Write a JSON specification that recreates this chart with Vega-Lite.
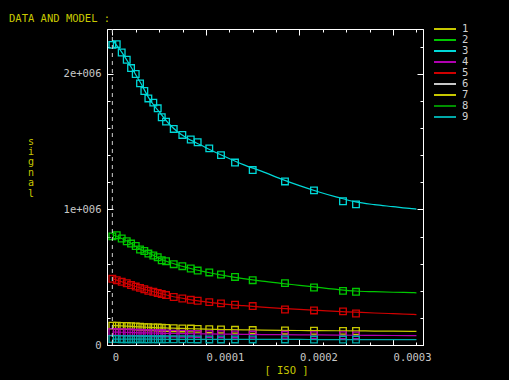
{
"$schema": "https://vega.github.io/schema/vega-lite/v6.json",
"width": 316, "height": 316,
"autosize": {"type": "none"},
"padding": {"left": 107, "top": 29, "right": 86, "bottom": 35},
"background": "#000000",
"title": {"text": "DATA AND MODEL :", "anchor": "start", "frame": "group", "dx": -98, "dy": 17, "offset": 9, "baseline": "alphabetic", "color": "#c8c800", "font": "DejaVu Sans Mono", "fontSize": 10.5, "fontWeight": "normal"},
"config": {
  "view": {"stroke": "#ffffff", "strokeWidth": 1},
  "axis": {"grid": false, "domainColor": "#ffffff", "tickColor": "#ffffff", "labelColor": "#c8c8c8", "labelFont": "DejaVu Sans Mono", "labelFontSize": 10.5, "titleFont": "DejaVu Sans Mono", "titleFontSize": 10.5, "titleFontWeight": "normal", "titleColor": "#c8c800", "labelOverlap": false, "labelFlush": false}
},
"datasets": {
"pts": [
{"s":"3","x":0,"y":2213000},{"s":"3","x":0.0000047,"y":2218000},{"s":"3","x":0.00001,"y":2157000},{"s":"3","x":0.0000154,"y":2103000},{"s":"3","x":0.00002,"y":2042000},{"s":"3","x":0.000025,"y":1998000},{"s":"3","x":0.0000296,"y":1929000},{"s":"3","x":0.0000342,"y":1873000},{"s":"3","x":0.0000385,"y":1818000},{"s":"3","x":0.0000438,"y":1787000},{"s":"3","x":0.0000485,"y":1745000},{"s":"3","x":0.0000528,"y":1679000},{"s":"3","x":0.0000574,"y":1647000},{"s":"3","x":0.0000656,"y":1593000},{"s":"3","x":0.0000748,"y":1549000},{"s":"3","x":0.0000838,"y":1515000},{"s":"3","x":0.0000912,"y":1495000},{"s":"3","x":0.0001036,"y":1450000},{"s":"3","x":0.0001161,"y":1400000},{"s":"3","x":0.0001311,"y":1345000},{"s":"3","x":0.00015,"y":1290000},{"s":"3","x":0.0001845,"y":1206000},{"s":"3","x":0.0002155,"y":1140000},{"s":"3","x":0.0002465,"y":1060000},{"s":"3","x":0.0002604,"y":1037000},
{"s":"2","x":0,"y":801000},{"s":"2","x":0.0000047,"y":809000},{"s":"2","x":0.00001,"y":785000},{"s":"2","x":0.0000154,"y":765000},{"s":"2","x":0.00002,"y":748000},{"s":"2","x":0.000025,"y":730000},{"s":"2","x":0.0000296,"y":704000},{"s":"2","x":0.0000342,"y":693000},{"s":"2","x":0.0000385,"y":674000},{"s":"2","x":0.0000438,"y":660000},{"s":"2","x":0.0000485,"y":647000},{"s":"2","x":0.0000528,"y":625000},{"s":"2","x":0.0000574,"y":618000},{"s":"2","x":0.0000656,"y":596000},{"s":"2","x":0.0000748,"y":581000},{"s":"2","x":0.0000838,"y":564000},{"s":"2","x":0.0000912,"y":549000},{"s":"2","x":0.0001036,"y":535000},{"s":"2","x":0.0001161,"y":520000},{"s":"2","x":0.0001311,"y":502000},{"s":"2","x":0.00015,"y":478000},{"s":"2","x":0.0001845,"y":456000},{"s":"2","x":0.0002155,"y":424000},{"s":"2","x":0.0002465,"y":399000},{"s":"2","x":0.0002604,"y":392000},
{"s":"5","x":0,"y":488000},{"s":"5","x":0.0000047,"y":478000},{"s":"5","x":0.00001,"y":466000},{"s":"5","x":0.0000154,"y":455000},{"s":"5","x":0.00002,"y":442000},{"s":"5","x":0.000025,"y":431000},{"s":"5","x":0.0000296,"y":421000},{"s":"5","x":0.0000342,"y":411000},{"s":"5","x":0.0000385,"y":400000},{"s":"5","x":0.0000438,"y":392000},{"s":"5","x":0.0000485,"y":384000},{"s":"5","x":0.0000528,"y":376000},{"s":"5","x":0.0000574,"y":368000},{"s":"5","x":0.0000656,"y":354000},{"s":"5","x":0.0000748,"y":343000},{"s":"5","x":0.0000838,"y":333000},{"s":"5","x":0.0000912,"y":326000},{"s":"5","x":0.0001036,"y":316000},{"s":"5","x":0.0001161,"y":307000},{"s":"5","x":0.0001311,"y":297000},{"s":"5","x":0.00015,"y":287000},{"s":"5","x":0.0001845,"y":262000},{"s":"5","x":0.0002155,"y":255000},{"s":"5","x":0.0002465,"y":248000},{"s":"5","x":0.0002604,"y":232000},
{"s":"1","x":0,"y":143000},{"s":"1","x":0.0000047,"y":142000},{"s":"1","x":0.00001,"y":141000},{"s":"1","x":0.0000154,"y":140000},{"s":"1","x":0.00002,"y":139000},{"s":"1","x":0.000025,"y":137000},{"s":"1","x":0.0000296,"y":134000},{"s":"1","x":0.0000342,"y":132000},{"s":"1","x":0.0000385,"y":131000},{"s":"1","x":0.0000438,"y":130000},{"s":"1","x":0.0000485,"y":129000},{"s":"1","x":0.0000528,"y":127000},{"s":"1","x":0.0000574,"y":126000},{"s":"1","x":0.0000656,"y":124000},{"s":"1","x":0.0000748,"y":122000},{"s":"1","x":0.0000838,"y":121000},{"s":"1","x":0.0000912,"y":119000},{"s":"1","x":0.0001036,"y":116000},{"s":"1","x":0.0001161,"y":114000},{"s":"1","x":0.0001311,"y":112000},{"s":"1","x":0.00015,"y":110000},{"s":"1","x":0.0001845,"y":107000},{"s":"1","x":0.0002155,"y":105000},{"s":"1","x":0.0002465,"y":104000},{"s":"1","x":0.0002604,"y":103000},
{"s":"4","x":0,"y":96000},{"s":"4","x":0.0000047,"y":95000},{"s":"4","x":0.00001,"y":94000},{"s":"4","x":0.0000154,"y":93000},{"s":"4","x":0.00002,"y":92000},{"s":"4","x":0.000025,"y":91000},{"s":"4","x":0.0000296,"y":90000},{"s":"4","x":0.0000342,"y":89000},{"s":"4","x":0.0000385,"y":88000},{"s":"4","x":0.0000438,"y":87000},{"s":"4","x":0.0000485,"y":86000},{"s":"4","x":0.0000528,"y":86000},{"s":"4","x":0.0000574,"y":85000},{"s":"4","x":0.0000656,"y":84000},{"s":"4","x":0.0000748,"y":83000},{"s":"4","x":0.0000838,"y":82000},{"s":"4","x":0.0000912,"y":81000},{"s":"4","x":0.0001036,"y":80000},{"s":"4","x":0.0001161,"y":79000},{"s":"4","x":0.0001311,"y":78000},{"s":"4","x":0.00015,"y":77000},{"s":"4","x":0.0001845,"y":75000},{"s":"4","x":0.0002155,"y":73000},{"s":"4","x":0.0002465,"y":72000},{"s":"4","x":0.0002604,"y":71000},
{"s":"9","x":0,"y":44000},{"s":"9","x":0.0000047,"y":44000},{"s":"9","x":0.00001,"y":43000},{"s":"9","x":0.0000154,"y":43000},{"s":"9","x":0.00002,"y":43000},{"s":"9","x":0.000025,"y":43000},{"s":"9","x":0.0000296,"y":43000},{"s":"9","x":0.0000342,"y":42000},{"s":"9","x":0.0000385,"y":42000},{"s":"9","x":0.0000438,"y":42000},{"s":"9","x":0.0000485,"y":42000},{"s":"9","x":0.0000528,"y":42000},{"s":"9","x":0.0000574,"y":42000},{"s":"9","x":0.0000656,"y":42000},{"s":"9","x":0.0000748,"y":42000},{"s":"9","x":0.0000838,"y":42000},{"s":"9","x":0.0000912,"y":41000},{"s":"9","x":0.0001036,"y":41000},{"s":"9","x":0.0001161,"y":41000},{"s":"9","x":0.0001311,"y":41000},{"s":"9","x":0.00015,"y":41000},{"s":"9","x":0.0001845,"y":41000},{"s":"9","x":0.0002155,"y":40000},{"s":"9","x":0.0002465,"y":40000},{"s":"9","x":0.0002604,"y":40000}
],
"mdl": [
{"s":"3","x":0,"y":2250000},{"s":"3","x":0.00001,"y":2160000},{"s":"3","x":0.00002,"y":2050000},{"s":"3","x":0.00003,"y":1935000},{"s":"3","x":0.00004,"y":1810000},{"s":"3","x":0.00005,"y":1720000},{"s":"3","x":0.00006,"y":1635000},{"s":"3","x":0.00007,"y":1570000},{"s":"3","x":0.00008,"y":1525000},{"s":"3","x":0.00009,"y":1490000},{"s":"3","x":0.0001,"y":1455000},{"s":"3","x":0.00012,"y":1390000},{"s":"3","x":0.00014,"y":1330000},{"s":"3","x":0.00016,"y":1280000},{"s":"3","x":0.00018,"y":1225000},{"s":"3","x":0.0002,"y":1175000},{"s":"3","x":0.00022,"y":1130000},{"s":"3","x":0.00024,"y":1090000},{"s":"3","x":0.00026,"y":1055000},{"s":"3","x":0.00028,"y":1035000},{"s":"3","x":0.0003,"y":1020000},{"s":"3","x":0.00032,"y":1005000},{"s":"3","x":0.000325,"y":1002000},
{"s":"2","x":0,"y":815000},{"s":"2","x":0.00001,"y":785000},{"s":"2","x":0.00002,"y":750000},{"s":"2","x":0.00003,"y":705000},{"s":"2","x":0.00004,"y":675000},{"s":"2","x":0.00005,"y":640000},{"s":"2","x":0.00006,"y":612000},{"s":"2","x":0.00007,"y":590000},{"s":"2","x":0.00008,"y":571000},{"s":"2","x":0.00009,"y":553000},{"s":"2","x":0.0001,"y":538000},{"s":"2","x":0.00012,"y":512000},{"s":"2","x":0.00014,"y":490000},{"s":"2","x":0.00016,"y":471000},{"s":"2","x":0.00018,"y":455000},{"s":"2","x":0.0002,"y":440000},{"s":"2","x":0.00022,"y":425000},{"s":"2","x":0.00024,"y":410000},{"s":"2","x":0.00026,"y":398000},{"s":"2","x":0.00028,"y":393000},{"s":"2","x":0.0003,"y":389000},{"s":"2","x":0.00032,"y":386000},{"s":"2","x":0.000325,"y":385000},
{"s":"5","x":0,"y":490000},{"s":"5","x":0.00001,"y":466000},{"s":"5","x":0.00002,"y":442000},{"s":"5","x":0.00003,"y":420000},{"s":"5","x":0.00004,"y":400000},{"s":"5","x":0.00005,"y":382000},{"s":"5","x":0.00006,"y":365000},{"s":"5","x":0.00007,"y":350000},{"s":"5","x":0.00008,"y":338000},{"s":"5","x":0.00009,"y":327000},{"s":"5","x":0.0001,"y":318000},{"s":"5","x":0.00012,"y":302000},{"s":"5","x":0.00014,"y":290000},{"s":"5","x":0.00016,"y":279000},{"s":"5","x":0.00018,"y":270000},{"s":"5","x":0.0002,"y":262000},{"s":"5","x":0.00022,"y":255000},{"s":"5","x":0.00024,"y":248000},{"s":"5","x":0.00026,"y":242000},{"s":"5","x":0.00028,"y":236000},{"s":"5","x":0.0003,"y":231000},{"s":"5","x":0.00032,"y":226000},{"s":"5","x":0.000325,"y":224000},
{"s":"1","x":0,"y":145000},{"s":"1","x":0.00001,"y":141000},{"s":"1","x":0.00002,"y":137000},{"s":"1","x":0.00003,"y":133000},{"s":"1","x":0.00004,"y":130000},{"s":"1","x":0.00005,"y":127000},{"s":"1","x":0.00006,"y":125000},{"s":"1","x":0.00007,"y":123000},{"s":"1","x":0.00008,"y":121000},{"s":"1","x":0.00009,"y":119000},{"s":"1","x":0.0001,"y":117000},{"s":"1","x":0.00012,"y":114000},{"s":"1","x":0.00014,"y":112000},{"s":"1","x":0.00016,"y":110000},{"s":"1","x":0.00018,"y":108000},{"s":"1","x":0.0002,"y":107000},{"s":"1","x":0.00022,"y":106000},{"s":"1","x":0.00024,"y":105000},{"s":"1","x":0.00026,"y":104000},{"s":"1","x":0.00028,"y":103000},{"s":"1","x":0.0003,"y":102000},{"s":"1","x":0.00032,"y":101000},{"s":"1","x":0.000325,"y":101000},
{"s":"4","x":0,"y":96000},{"s":"4","x":0.00001,"y":94000},{"s":"4","x":0.00002,"y":92000},{"s":"4","x":0.00003,"y":90000},{"s":"4","x":0.00004,"y":89000},{"s":"4","x":0.00005,"y":87000},{"s":"4","x":0.00006,"y":86000},{"s":"4","x":0.00007,"y":85000},{"s":"4","x":0.00008,"y":84000},{"s":"4","x":0.00009,"y":83000},{"s":"4","x":0.0001,"y":82000},{"s":"4","x":0.00012,"y":80000},{"s":"4","x":0.00014,"y":79000},{"s":"4","x":0.00016,"y":77000},{"s":"4","x":0.00018,"y":76000},{"s":"4","x":0.0002,"y":75000},{"s":"4","x":0.00022,"y":74000},{"s":"4","x":0.00024,"y":73000},{"s":"4","x":0.00026,"y":72000},{"s":"4","x":0.00028,"y":71000},{"s":"4","x":0.0003,"y":70000},{"s":"4","x":0.00032,"y":69000},{"s":"4","x":0.000325,"y":69000},
{"s":"9","x":0,"y":44000},{"s":"9","x":0.00001,"y":44000},{"s":"9","x":0.00002,"y":43000},{"s":"9","x":0.00003,"y":43000},{"s":"9","x":0.00004,"y":43000},{"s":"9","x":0.00005,"y":42000},{"s":"9","x":0.00006,"y":42000},{"s":"9","x":0.00007,"y":42000},{"s":"9","x":0.00008,"y":42000},{"s":"9","x":0.00009,"y":42000},{"s":"9","x":0.0001,"y":42000},{"s":"9","x":0.00012,"y":41000},{"s":"9","x":0.00014,"y":41000},{"s":"9","x":0.00016,"y":41000},{"s":"9","x":0.00018,"y":41000},{"s":"9","x":0.0002,"y":41000},{"s":"9","x":0.00022,"y":40000},{"s":"9","x":0.00024,"y":40000},{"s":"9","x":0.00026,"y":40000},{"s":"9","x":0.00028,"y":40000},{"s":"9","x":0.0003,"y":40000},{"s":"9","x":0.00032,"y":40000},{"s":"9","x":0.000325,"y":40000}
]
},
"layer": [
{
 "data": {"name": "mdl"},
 "mark": {"type": "line", "strokeWidth": 1.2, "interpolate": "monotone"},
 "encoding": {
  "x": {"field": "x", "type": "quantitative", "scale": {"domain": [-0.0000057, 0.000332], "nice": false, "zero": false},
        "axis": {"orient": "bottom", "values": [0,0.000025,0.00005,0.000075,0.0001,0.000125,0.00015,0.000175,0.0002,0.000225,0.00025,0.000275,0.0003,0.000325],
                 "labelExpr": "abs(datum.value*10000 - round(datum.value*10000)) < 0.000001 ? (datum.value == 0 ? '0' : format(datum.value, '.4f')) : ''",
                 "labelAlign": "left", "labelPadding": 13,
                 "tickSize": {"condition": {"test": "abs(datum.value*10000 - round(datum.value*10000)) < 0.000001", "value": -6}, "value": -3},
                 "title": "[ ISO ]", "titleX": 179, "titleY": 28, "titleBaseline": "alphabetic", "titleAlign": "center"}},
  "y": {"field": "y", "type": "quantitative", "scale": {"domain": [0, 2330000], "nice": false, "zero": false},
        "axis": {"orient": "left", "values": [0,200000,400000,600000,800000,1000000,1200000,1400000,1600000,1800000,2000000,2200000],
                 "labelExpr": "datum.value == 0 ? '0' : (datum.value == 1000000 ? '1e+006' : (datum.value == 2000000 ? '2e+006' : ''))",
                 "labelPadding": 12,
                 "tickSize": {"condition": {"test": "datum.value % 1000000 == 0", "value": -6}, "value": -3},
                 "title": ["s","i","g","n","a","l"], "titleAngle": 0, "titleX": -76.5, "titleY": 115, "titleBaseline": "alphabetic", "titleAlign": "center", "titleFontSize": 10, "titleLineHeight": 10.4}},
  "color": {"field": "s", "type": "nominal",
            "scale": {"domain": ["1","2","3","4","5","6","7","8","9"], "range": ["#c8c800","#00c800","#00d8d8","#b000b0","#d00000","#c8c8c8","#c8c800","#009000","#00a8a8"]},
            "legend": {"orient": "none", "legendX": 326, "legendY": -5, "title": null, "symbolType": "stroke", "symbolSize": 484, "symbolStrokeWidth": 2, "labelFont": "DejaVu Sans Mono", "labelFontSize": 10.5, "labelColor": "#d0d0d0", "labelOffset": 5, "rowPadding": -0.45, "clipHeight": 10.1, "padding": 0}}
 }
},
{
 "data": {"name": "pts"},
 "mark": {"type": "point", "shape": "square", "size": 44, "strokeWidth": 1.3, "filled": false, "opacity": 1},
 "encoding": {
  "x": {"field": "x", "type": "quantitative", "scale": {"domain": [-0.0000057, 0.000332], "nice": false, "zero": false},
        "axis": {"orient": "top", "values": [0,0.000025,0.00005,0.000075,0.0001,0.000125,0.00015,0.000175,0.0002,0.000225,0.00025,0.000275,0.0003,0.000325], "labels": false, "title": null,
                 "tickSize": {"condition": {"test": "abs(datum.value*10000 - round(datum.value*10000)) < 0.000001", "value": -6}, "value": -3}}},
  "y": {"field": "y", "type": "quantitative", "scale": {"domain": [0, 2330000], "nice": false, "zero": false},
        "axis": {"orient": "right", "values": [0,200000,400000,600000,800000,1000000,1200000,1400000,1600000,1800000,2000000,2200000], "labels": false, "title": null,
                 "tickSize": {"condition": {"test": "datum.value % 1000000 == 0", "value": -6}, "value": -3}}},
  "color": {"field": "s", "type": "nominal",
            "scale": {"domain": ["1","2","3","4","5","6","7","8","9"], "range": ["#c8c800","#00c800","#00d8d8","#b000b0","#d00000","#c8c8c8","#c8c800","#009000","#00a8a8"]},
            "legend": {"orient": "none", "legendX": 326, "legendY": -5, "title": null, "symbolType": "stroke", "symbolSize": 484, "symbolStrokeWidth": 2, "labelFont": "DejaVu Sans Mono", "labelFontSize": 10.5, "labelColor": "#d0d0d0", "labelOffset": 5, "rowPadding": -0.45, "clipHeight": 10.1, "padding": 0}}
 }
},
{
 "data": {"values": [{}]},
 "mark": {"type": "rule", "strokeDash": [4, 4], "color": "#d0d0d0", "strokeWidth": 1},
 "encoding": {"x": {"datum": 0, "type": "quantitative", "axis": null}}
}
],
"resolve": {"axis": {"x": "independent", "y": "independent"}}
}
